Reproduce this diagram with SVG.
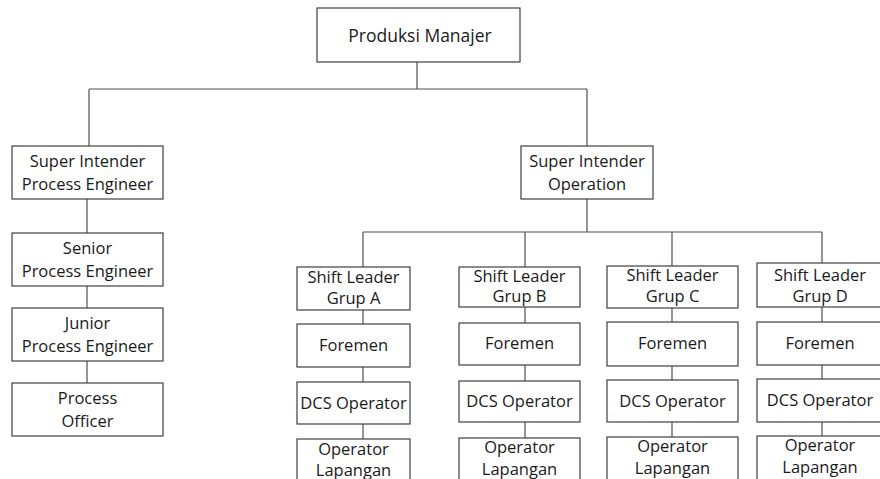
<svg xmlns="http://www.w3.org/2000/svg" width="880" height="479" viewBox="0 0 880 479">
  <style>
    .box { fill: #ffffff; stroke: #404040; stroke-width: 1.2; }
    .wire { fill: none; stroke: #505050; stroke-width: 1.2; }
    text { font-family: "Open Sans", "Liberation Sans", sans-serif; font-size: 16.5px; fill: #1a1a1a; text-anchor: middle; }
    .big { font-size: 17.5px; }
  </style>
  <rect width="880" height="479" fill="#ffffff"/>

  <!-- connectors -->
  <g id="connectors" class="wire">
    <path d="M417,62 V89 M89,89 H587 M89,89 V146 M587,89 V146"/>
    <path d="M87,199 V233 M87,286 V308 M87,361 V383"/>
    <path d="M587,199 V232 M363,232 H822 M363,232 V267 M525,232 V267 M672,232 V266 M822,232 V263"/>
    <path d="M363,310 V324 M363,367 V382 M363,424 V439"/>
    <path d="M525,307 V323 M525,365 V381 M525,422 V438"/>
    <path d="M672,308 V322 M672,366 V380 M672,422 V437"/>
    <path d="M822,307 V322 M822,365 V379 M822,422 V436"/>
  </g>

  <!-- top -->
  <g id="produksi-manajer">
    <rect class="box" x="317" y="8" width="203" height="54"/>
    <text class="big" x="420" y="42">Produksi Manajer</text>
  </g>

  <!-- process engineering column -->
  <g id="si-process">
    <rect class="box" x="12" y="146" width="151" height="53"/>
    <text x="87.5" y="167">Super Intender</text>
    <text x="87.5" y="190">Process Engineer</text>
  </g>
  <g id="senior-pe">
    <rect class="box" x="12" y="233" width="151" height="53"/>
    <text x="87.5" y="254">Senior</text>
    <text x="87.5" y="277">Process Engineer</text>
  </g>
  <g id="junior-pe">
    <rect class="box" x="12" y="308" width="151" height="53"/>
    <text x="87.5" y="329">Junior</text>
    <text x="87.5" y="352">Process Engineer</text>
  </g>
  <g id="process-officer">
    <rect class="box" x="12" y="383" width="151" height="53"/>
    <text x="87.5" y="404">Process</text>
    <text x="87.5" y="427">Officer</text>
  </g>

  <!-- operation column -->
  <g id="si-operation">
    <rect class="box" x="521" y="146" width="132" height="53"/>
    <text x="587" y="167">Super Intender</text>
    <text x="587" y="190">Operation</text>
  </g>

  <!-- group A -->
  <g id="shift-a">
    <rect class="box" x="297" y="267" width="113" height="43"/>
    <text x="353.5" y="283">Shift Leader</text>
    <text x="353.5" y="304">Grup A</text>
  </g>
  <g id="foremen-a">
    <rect class="box" x="297" y="324" width="113" height="43"/>
    <text x="353.5" y="351">Foremen</text>
  </g>
  <g id="dcs-a">
    <rect class="box" x="297" y="382" width="113" height="42"/>
    <text x="353.5" y="409">DCS Operator</text>
  </g>
  <g id="oplap-a">
    <rect class="box" x="297" y="439" width="113" height="50"/>
    <text x="353.5" y="455">Operator</text>
    <text x="353.5" y="476">Lapangan</text>
  </g>

  <!-- group B -->
  <g id="shift-b">
    <rect class="box" x="459" y="267" width="121" height="40"/>
    <text x="519.5" y="282">Shift Leader</text>
    <text x="519.5" y="302">Grup B</text>
  </g>
  <g id="foremen-b">
    <rect class="box" x="459" y="323" width="121" height="42"/>
    <text x="519.5" y="349">Foremen</text>
  </g>
  <g id="dcs-b">
    <rect class="box" x="459" y="381" width="121" height="41"/>
    <text x="519.5" y="407">DCS Operator</text>
  </g>
  <g id="oplap-b">
    <rect class="box" x="459" y="438" width="121" height="50"/>
    <text x="519.5" y="453">Operator</text>
    <text x="519.5" y="475">Lapangan</text>
  </g>

  <!-- group C -->
  <g id="shift-c">
    <rect class="box" x="607" y="266" width="131" height="42"/>
    <text x="672.5" y="281">Shift Leader</text>
    <text x="672.5" y="302">Grup C</text>
  </g>
  <g id="foremen-c">
    <rect class="box" x="607" y="322" width="131" height="44"/>
    <text x="672.5" y="349">Foremen</text>
  </g>
  <g id="dcs-c">
    <rect class="box" x="607" y="380" width="131" height="42"/>
    <text x="672.5" y="407">DCS Operator</text>
  </g>
  <g id="oplap-c">
    <rect class="box" x="607" y="437" width="131" height="50"/>
    <text x="672.5" y="452">Operator</text>
    <text x="672.5" y="474">Lapangan</text>
  </g>

  <!-- group D (runs off the right edge) -->
  <g id="shift-d">
    <rect class="box" x="757" y="263" width="126" height="44"/>
    <text x="820" y="281">Shift Leader</text>
    <text x="820" y="302">Grup D</text>
  </g>
  <g id="foremen-d">
    <rect class="box" x="757" y="322" width="126" height="43"/>
    <text x="820" y="349">Foremen</text>
  </g>
  <g id="dcs-d">
    <rect class="box" x="757" y="379" width="126" height="43"/>
    <text x="820" y="406">DCS Operator</text>
  </g>
  <g id="oplap-d">
    <rect class="box" x="757" y="436" width="126" height="50"/>
    <text x="820" y="451">Operator</text>
    <text x="820" y="473">Lapangan</text>
  </g>
</svg>
